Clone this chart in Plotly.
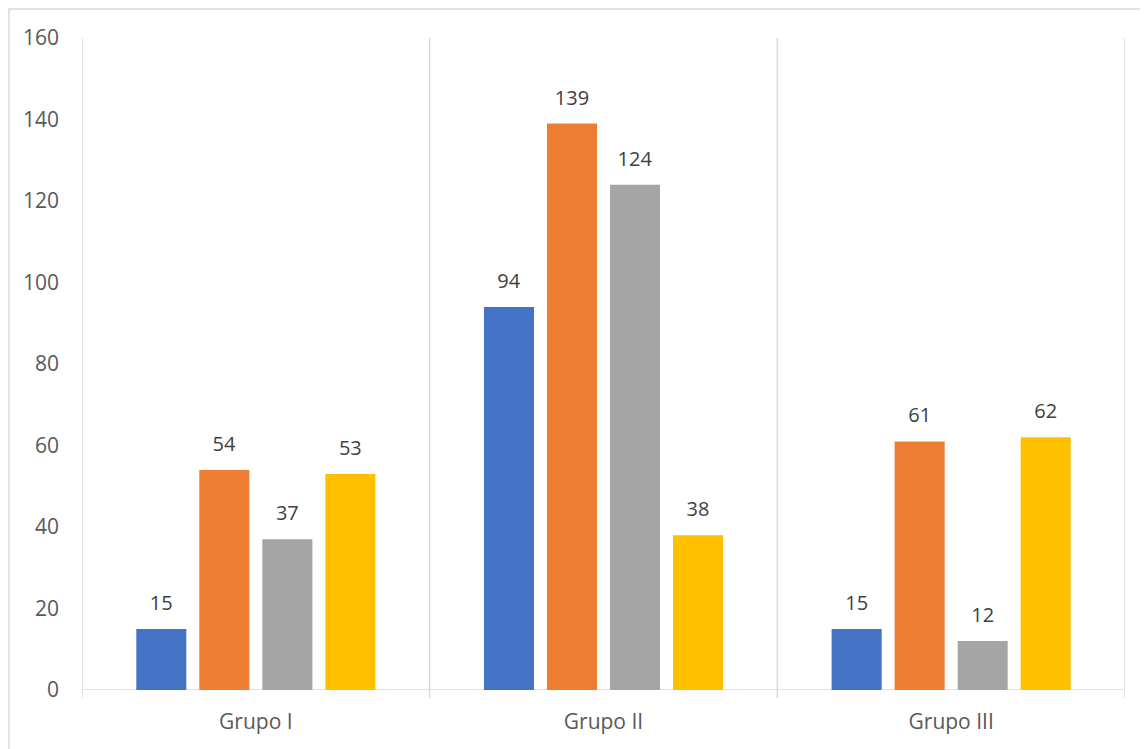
import plotly.graph_objects as go

categories = ["Grupo I", "Grupo II", "Grupo III"]
series_names = ["Serie 1", "Serie 2", "Serie 3", "Serie 4"]
serie1 = [15, 94, 15]
serie2 = [54, 139, 61]
serie3 = [37, 124, 12]
serie4 = [53, 38, 62]
colors = ["#4472C4", "#ED7D31", "#A5A5A5", "#FFC000"]
y_ticks = [0, 20, 40, 60, 80, 100, 120, 140, 160]

FONT = "Open Sans"
PW, PH = 1043, 652
fig = go.Figure()
for name, vals, col in zip(series_names, [serie1, serie2, serie3, serie4], colors):
    fig.add_trace(go.Bar(
        x=list(range(len(categories))), y=vals, name=name,
        marker=dict(color=col, line=dict(width=0)),
        text=vals,
        texttemplate="<span style='font-size:20px'>%{y}</span><br>&nbsp;",
        textposition="outside",
        textfont=dict(family=FONT, size=10, color="#404040"),
        cliponaxis=False,
    ))

fig.update_layout(
    width=1140, height=741,
    margin=dict(l=74, r=23, t=30, b=59),
    paper_bgcolor="white", plot_bgcolor="white",
    barmode="group", bargap=0.275, bargroupgap=0.206,
    showlegend=False,
    font=dict(family=FONT, size=21, color="#595959"),
)
fig.update_xaxes(
    range=[-0.5, len(categories) - 0.5],
    tickmode="array", tickvals=list(range(len(categories))), ticktext=categories,
    showgrid=False, zeroline=False, showline=False, ticks="",
    ticklabelstandoff=17,
    tickfont=dict(family=FONT, size=21, color="#595959"),
)
fig.update_yaxes(
    range=[0, 160], tickvals=y_ticks, showgrid=False, zeroline=False,
    showline=False, ticks="", ticklabelstandoff=22,
    tickfont=dict(family=FONT, size=21, color="#595959"),
)
# category separators
for i in range(len(categories) + 1):
    fig.add_shape(type="line", xref="x", yref="paper",
                  x0=i - 0.5, x1=i - 0.5, y0=-8 / PH, y1=1,
                  line=dict(color="#D9D9D9", width=1.5), layer="below")
# horizontal axis line
fig.add_shape(type="line", xref="paper", yref="y", x0=0, x1=1, y0=0, y1=0,
              line=dict(color="#D9D9D9", width=1.5), layer="below")
# chart border
fig.add_shape(type="rect", xref="paper", yref="paper",
              x0=-73 / PW, x1=1.2, y0=-0.3, y1=1 + 29 / PH,
              line=dict(color="#D9D9D9", width=1.5), fillcolor="rgba(0,0,0,0)")

fig.write_html("out.html")
